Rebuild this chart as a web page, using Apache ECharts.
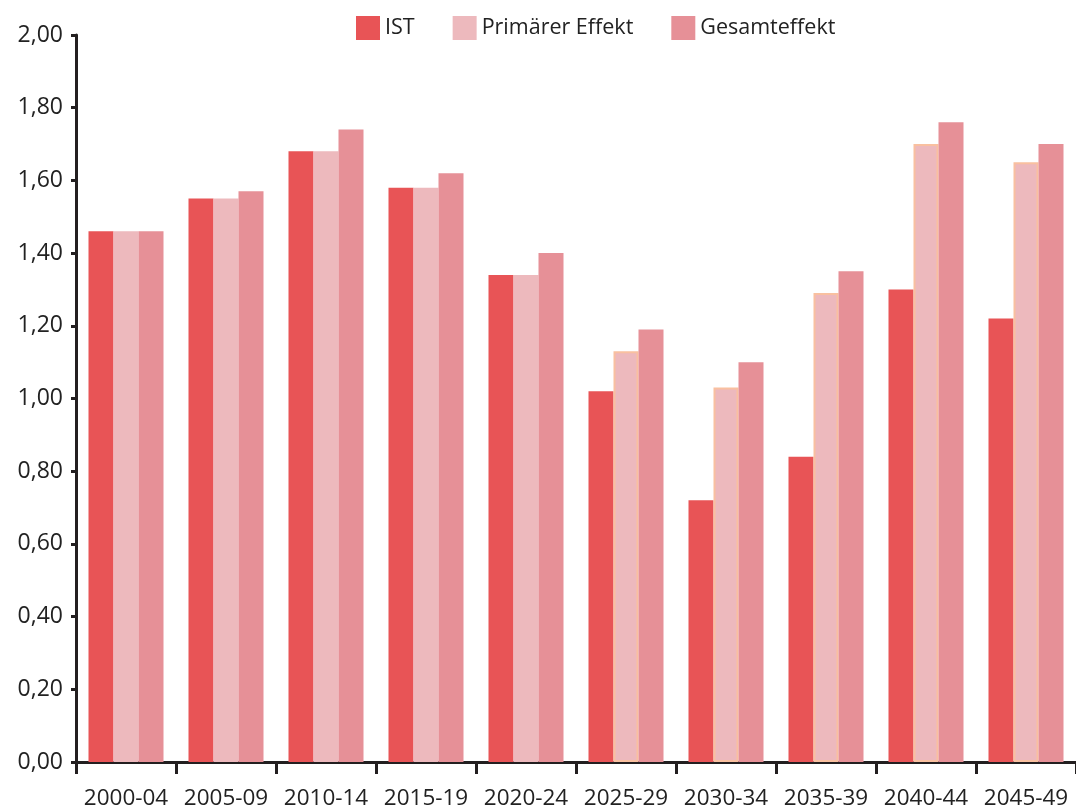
<!DOCTYPE html>
<html>
<head>
<meta charset="utf-8">
<script src="https://cdn.jsdelivr.net/npm/echarts@6/dist/echarts.min.js"></script>
<style>
  html, body { margin: 0; padding: 0; background: #fff; }
  #chart { width: 1076px; height: 808px; }
</style>
</head>
<body>
<div id="chart"></div>
<script>
// Zeiträume (Fünfjahresintervalle)
const categories = ['2000-04', '2005-09', '2010-14', '2015-19', '2020-24',
                    '2025-29', '2030-34', '2035-39', '2040-44', '2045-49'];
const seriesNames = ['IST', 'Primärer Effekt', 'Gesamteffekt'];
const ist       = [1.46, 1.55, 1.68, 1.58, 1.34, 1.02, 0.72, 0.84, 1.30, 1.22];
const primaer   = [1.46, 1.55, 1.68, 1.58, 1.34, 1.13, 1.03, 1.29, 1.70, 1.65];
const gesamt    = [1.46, 1.57, 1.74, 1.62, 1.40, 1.19, 1.10, 1.35, 1.76, 1.70];

const colors = ['#e85456', '#edb9bd', '#e69097'];
const fontFamily = '"Open Sans", "Noto Sans", sans-serif';

// Primary-effect bars that rise above IST get a soft orange outline
const primaerData = primaer.map((v, i) => ({
  value: v,
  itemStyle: v > ist[i] + 0.005
    ? { borderColor: '#f9c0a0', borderWidth: 2 }
    : {}
}));

const chart = echarts.init(document.getElementById('chart'));
chart.setOption({
  animation: false,
  backgroundColor: '#ffffff',
  color: colors,
  legend: {
    top: 11,
    left: 351,
    itemWidth: 24,
    itemHeight: 24,
    itemGap: 38,
    icon: 'rect',
    textStyle: { fontFamily, fontSize: 21.5, color: '#222' },
    data: seriesNames
  },
  grid: { left: 76, right: 0, top: 35, bottom: 46, containLabel: false, outerBoundsMode: 'none' },
  xAxis: {
    type: 'category',
    data: categories,
    axisLine: { lineStyle: { color: '#231f20', width: 3 } },
    axisTick: { show: true, length: 12, lineStyle: { color: '#231f20', width: 3 } },
    axisLabel: { fontFamily, fontSize: 22.5, color: '#222', margin: 25, interval: 0, hideOverlap: false }
  },
  yAxis: {
    type: 'value',
    min: 0,
    max: 2,
    interval: 0.2,
    axisLine: { show: true, lineStyle: { color: '#231f20', width: 3 } },
    axisTick: { show: true, length: 5, lineStyle: { color: '#231f20', width: 3 } },
    splitLine: { show: false },
    axisLabel: {
      fontFamily, fontSize: 23, color: '#222', margin: 13,
      formatter: v => v.toFixed(2).replace('.', ',')
    }
  },
  series: [
    { name: seriesNames[0], type: 'bar', data: ist, barWidth: 25, barGap: '0%' },
    { name: seriesNames[1], type: 'bar', data: primaerData, barWidth: 25, barGap: '0%' },
    { name: seriesNames[2], type: 'bar', data: gesamt, barWidth: 25, barGap: '0%' }
  ]
});
</script>
</body>
</html>
